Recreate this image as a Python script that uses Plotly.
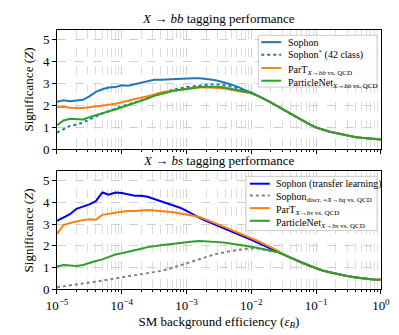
import numpy as np
import plotly.graph_objects as go
from plotly.subplots import make_subplots

# log10 of background efficiency, shared grid
log_eps = [-5.0, -4.9, -4.8, -4.7, -4.6, -4.5, -4.4, -4.3, -4.2, -4.1,
           -4.0, -3.9, -3.8, -3.7, -3.6, -3.5, -3.4, -3.3, -3.2, -3.1,
           -3.0, -2.9, -2.8, -2.7, -2.6, -2.5, -2.4, -2.3, -2.2, -2.1,
           -2.0, -1.9, -1.8, -1.7, -1.6, -1.5, -1.4, -1.3, -1.2, -1.1,
           -1.0, -0.9, -0.8, -0.7, -0.6, -0.5, -0.4, -0.3, -0.2, -0.1, 0.0]

# shared high-efficiency tail (from 1e-2 up)
tail = [2.55, 2.42, 2.28, 2.12, 1.95, 1.78, 1.6, 1.43, 1.27, 1.12,
        0.98, 0.88, 0.8, 0.73, 0.66, 0.6, 0.55, 0.51, 0.48, 0.455, 0.44]

# X -> bb panel
bb_sophon = [2.15, 2.22, 2.18, 2.2, 2.24, 2.4, 2.6, 2.72, 2.8, 2.82,
             2.9, 2.88, 2.95, 3.0, 3.08, 3.15, 3.15, 3.17, 3.17, 3.18,
             3.2, 3.22, 3.22, 3.2, 3.15, 3.1, 3.03, 2.93, 2.82, 2.68] + [2.58, 2.44] + tail[2:]
bb_sophon42 = [0.75, 0.9, 1.05, 1.12, 1.2, 1.35, 1.5, 1.62, 1.72, 1.85,
               1.95, 2.02, 2.12, 2.25, 2.35, 2.45, 2.55, 2.63, 2.7, 2.77,
               2.82, 2.86, 2.9, 2.93, 2.95, 2.94, 2.9, 2.84, 2.75, 2.64] + tail
bb_part = [1.9, 1.92, 1.88, 1.86, 1.87, 1.9, 1.95, 2.0, 2.02, 2.06,
           2.12, 2.2, 2.28, 2.33, 2.4, 2.48, 2.57, 2.62, 2.66, 2.7,
           2.74, 2.78, 2.8, 2.81, 2.8, 2.78, 2.74, 2.7, 2.64, 2.58] + tail
bb_pnet = [1.08, 1.3, 1.38, 1.38, 1.35, 1.45, 1.55, 1.65, 1.72, 1.8,
           1.9, 1.97, 2.07, 2.17, 2.3, 2.42, 2.5, 2.58, 2.65, 2.7,
           2.75, 2.79, 2.82, 2.84, 2.85, 2.83, 2.79, 2.73, 2.66, 2.58] + tail

# X -> bs panel
bs_tail = [1.6, 1.46, 1.33, 1.2, 1.08, 0.97, 0.87, 0.79, 0.72, 0.66,
           0.6, 0.55, 0.51, 0.48, 0.455, 0.44]
bs_sophon = [3.15, 3.3, 3.45, 3.7, 3.8, 3.9, 4.05, 4.45, 4.35, 4.45,
             4.42, 4.35, 4.3, 4.3, 4.25, 4.15, 4.05, 3.95, 3.85, 3.75,
             3.6, 3.42, 3.28, 3.15, 3.02, 2.9, 2.77, 2.64, 2.52, 2.4,
             2.28, 2.15, 2.02, 1.89, 1.75] + bs_tail
bs_discr = [0.1, 0.14, 0.18, 0.22, 0.25, 0.3, 0.35, 0.4, 0.45, 0.5,
            0.55, 0.59, 0.63, 0.67, 0.72, 0.78, 0.85, 0.92, 1.0, 1.1,
            1.2, 1.3, 1.4, 1.5, 1.58, 1.65, 1.72, 1.77, 1.82, 1.86,
            1.88, 1.88, 1.83, 1.75, 1.7] + bs_tail
bs_part = [2.55, 2.95, 3.05, 3.12, 3.18, 3.22, 3.2, 3.42, 3.48, 3.52,
           3.56, 3.6, 3.6, 3.62, 3.64, 3.62, 3.6, 3.58, 3.54, 3.48,
           3.44, 3.38, 3.32, 3.21, 3.09, 2.97, 2.85, 2.72, 2.6, 2.48,
           2.35, 2.22, 2.08, 1.94, 1.79] + bs_tail
bs_pnet = [1.05, 1.12, 1.1, 1.08, 1.12, 1.22, 1.3, 1.38, 1.5, 1.6,
           1.66, 1.72, 1.8, 1.87, 1.94, 2.0, 2.03, 2.06, 2.1, 2.13,
           2.18, 2.2, 2.22, 2.21, 2.19, 2.17, 2.14, 2.1, 2.06, 2.01,
           1.96, 1.9, 1.83, 1.76, 1.72] + bs_tail

eps = 10 ** np.array(log_eps)

C_BLUE = "#1f77b4"
C_ORANGE = "#ff7f0e"
C_GREEN = "#2ca02c"
SERIF = "Liberation Serif, Times New Roman, serif"
W, H = 399, 335

fig = make_subplots(rows=2, cols=1)

top = [
    (bb_sophon, "Sophon", C_BLUE, "solid"),
    (bb_sophon42, "Sophon<sup>*</sup> (42 class)", C_BLUE, "dot"),
    (bb_part, "ParT<sub><i>X</i>→<i>bb</i> vs. QCD</sub>", C_ORANGE, "solid"),
    (bb_pnet, "ParticleNet<sub><i>X</i>→<i>bb</i> vs. QCD</sub>", C_GREEN, "solid"),
]
bottom = [
    (bs_sophon, "Sophon (transfer learning)", "#0000ee", "solid"),
    (bs_discr, "Sophon<sub>discr. =<i>X</i>→<i>bq</i> vs. QCD</sub>", "#808080", "dot"),
    (bs_part, "ParT<sub><i>X</i>→<i>bs</i> vs. QCD</sub>", C_ORANGE, "solid"),
    (bs_pnet, "ParticleNet<sub><i>X</i>→<i>bs</i> vs. QCD</sub>", C_GREEN, "solid"),
]
for r, series in ((1, top), (2, bottom)):
    for ys, name, col, dash in series:
        fig.add_trace(go.Scatter(x=eps, y=ys, name=name, mode="lines",
                                 line=dict(color=col, width=2, dash=dash),
                                 showlegend=False), row=r, col=1)

minor_vals = [m * 10 ** e for e in range(-5, 0) for m in range(2, 10)]
xticks = [1e-5, 1e-4, 1e-3, 1e-2, 1e-1, 1]
xtext = ["10<sup>−5</sup>", "10<sup>−4</sup>", "10<sup>−3</sup>",
         "10<sup>−2</sup>", "10<sup>−1</sup>", "10<sup>0</sup>"]

xdom = [40 / W, 381 / W]
for r, dom in ((1, [1 - 144.5 / H, 1 - 22.5 / H]), (2, [1 - 288.3 / H, 1 - 167.3 / H])):
    fig.update_xaxes(type="log", range=[-5, 0], domain=xdom,
                     tickvals=xticks, ticktext=xtext if r == 2 else [""] * 6,
                     ticks="outside", ticklen=4, tickcolor="black",
                     showline=True, linecolor="black", linewidth=1, mirror=True,
                     showgrid=True, gridcolor="#d0d0d0", griddash="dash", gridwidth=0.7,
                     minor=dict(tickvals=minor_vals, ticks="outside", ticklen=2,
                                tickcolor="black", showgrid=True,
                                gridcolor="#dddddd", griddash="dash", gridwidth=0.7),
                     zeroline=False, tickfont=dict(family=SERIF, size=13, color="black"),
                     row=r, col=1)
    fig.update_yaxes(range=[0, 5.42], domain=dom, tickvals=[0, 1, 2, 3, 4, 5],
                     ticks="outside", ticklen=4, tickcolor="black",
                     showline=True, linecolor="black", linewidth=1, mirror=True,
                     showgrid=True, gridcolor="#d0d0d0", griddash="dash", gridwidth=0.7,
                     zeroline=False, tickfont=dict(family=SERIF, size=13, color="black"),
                     title=dict(text="Significance (<i>Z</i>)", standoff=6,
                                font=dict(family=SERIF, size=13, color="black")),
                     row=r, col=1)

fig.update_xaxes(title=dict(text="SM background efficiency (<i>ε<sub>B</sub></i>)", standoff=4,
                            font=dict(family=SERIF, size=13, color="black")), row=2, col=1)

# hand-drawn legends (matplotlib-style compact boxes)
shapes, annotations = [], []


def add_legend(series, box, line_x, text_x, rows_y):
    x0, y0, x1, y1 = box
    shapes.append(dict(type="rect", xref="paper", yref="paper",
                       x0=x0 / W, x1=x1 / W, y0=1 - y1 / H, y1=1 - y0 / H,
                       fillcolor="rgba(255,255,255,0.85)", line=dict(color="#cccccc", width=1)))
    for (ys, name, col, dash), yy in zip(series, rows_y):
        shapes.append(dict(type="line", xref="paper", yref="paper",
                           x0=line_x[0] / W, x1=line_x[1] / W, y0=1 - yy / H, y1=1 - yy / H,
                           line=dict(color=col, width=2, dash=dash)))
        # labels with a subscript get a taller box; nudge so the main text sits on the line
        ty = yy + 2.5 if "<sub>" in name else yy
        annotations.append(dict(text=name, x=text_x / W, y=1 - ty / H, xref="paper", yref="paper",
                                showarrow=False, xanchor="left", yanchor="middle",
                                font=dict(family=SERIF, size=10, color="black")))


add_legend(top, (252, 28, 377, 81), (255, 276), 281, [35, 48, 61.5, 74.5])
add_legend(bottom, (239, 172.5, 377, 228), (243, 264), 268, [180, 192, 205, 218])

annotations += [
    dict(text="<i>X</i> → <i>bb</i> tagging performance", x=210.5 / W, y=1 - 11 / H,
         xref="paper", yref="paper", showarrow=False, xanchor="center", yanchor="middle",
         font=dict(family=SERIF, size=13, color="black")),
    dict(text="<i>X</i> → <i>bs</i> tagging performance", x=210.5 / W, y=1 - 156 / H,
         xref="paper", yref="paper", showarrow=False, xanchor="center", yanchor="middle",
         font=dict(family=SERIF, size=13, color="black")),
]

fig.update_layout(
    width=W, height=H,
    margin=dict(l=0, r=0, t=0, b=0),
    plot_bgcolor="white", paper_bgcolor="white",
    showlegend=False,
    shapes=shapes,
    annotations=annotations,
)

fig.write_html("out.html")
